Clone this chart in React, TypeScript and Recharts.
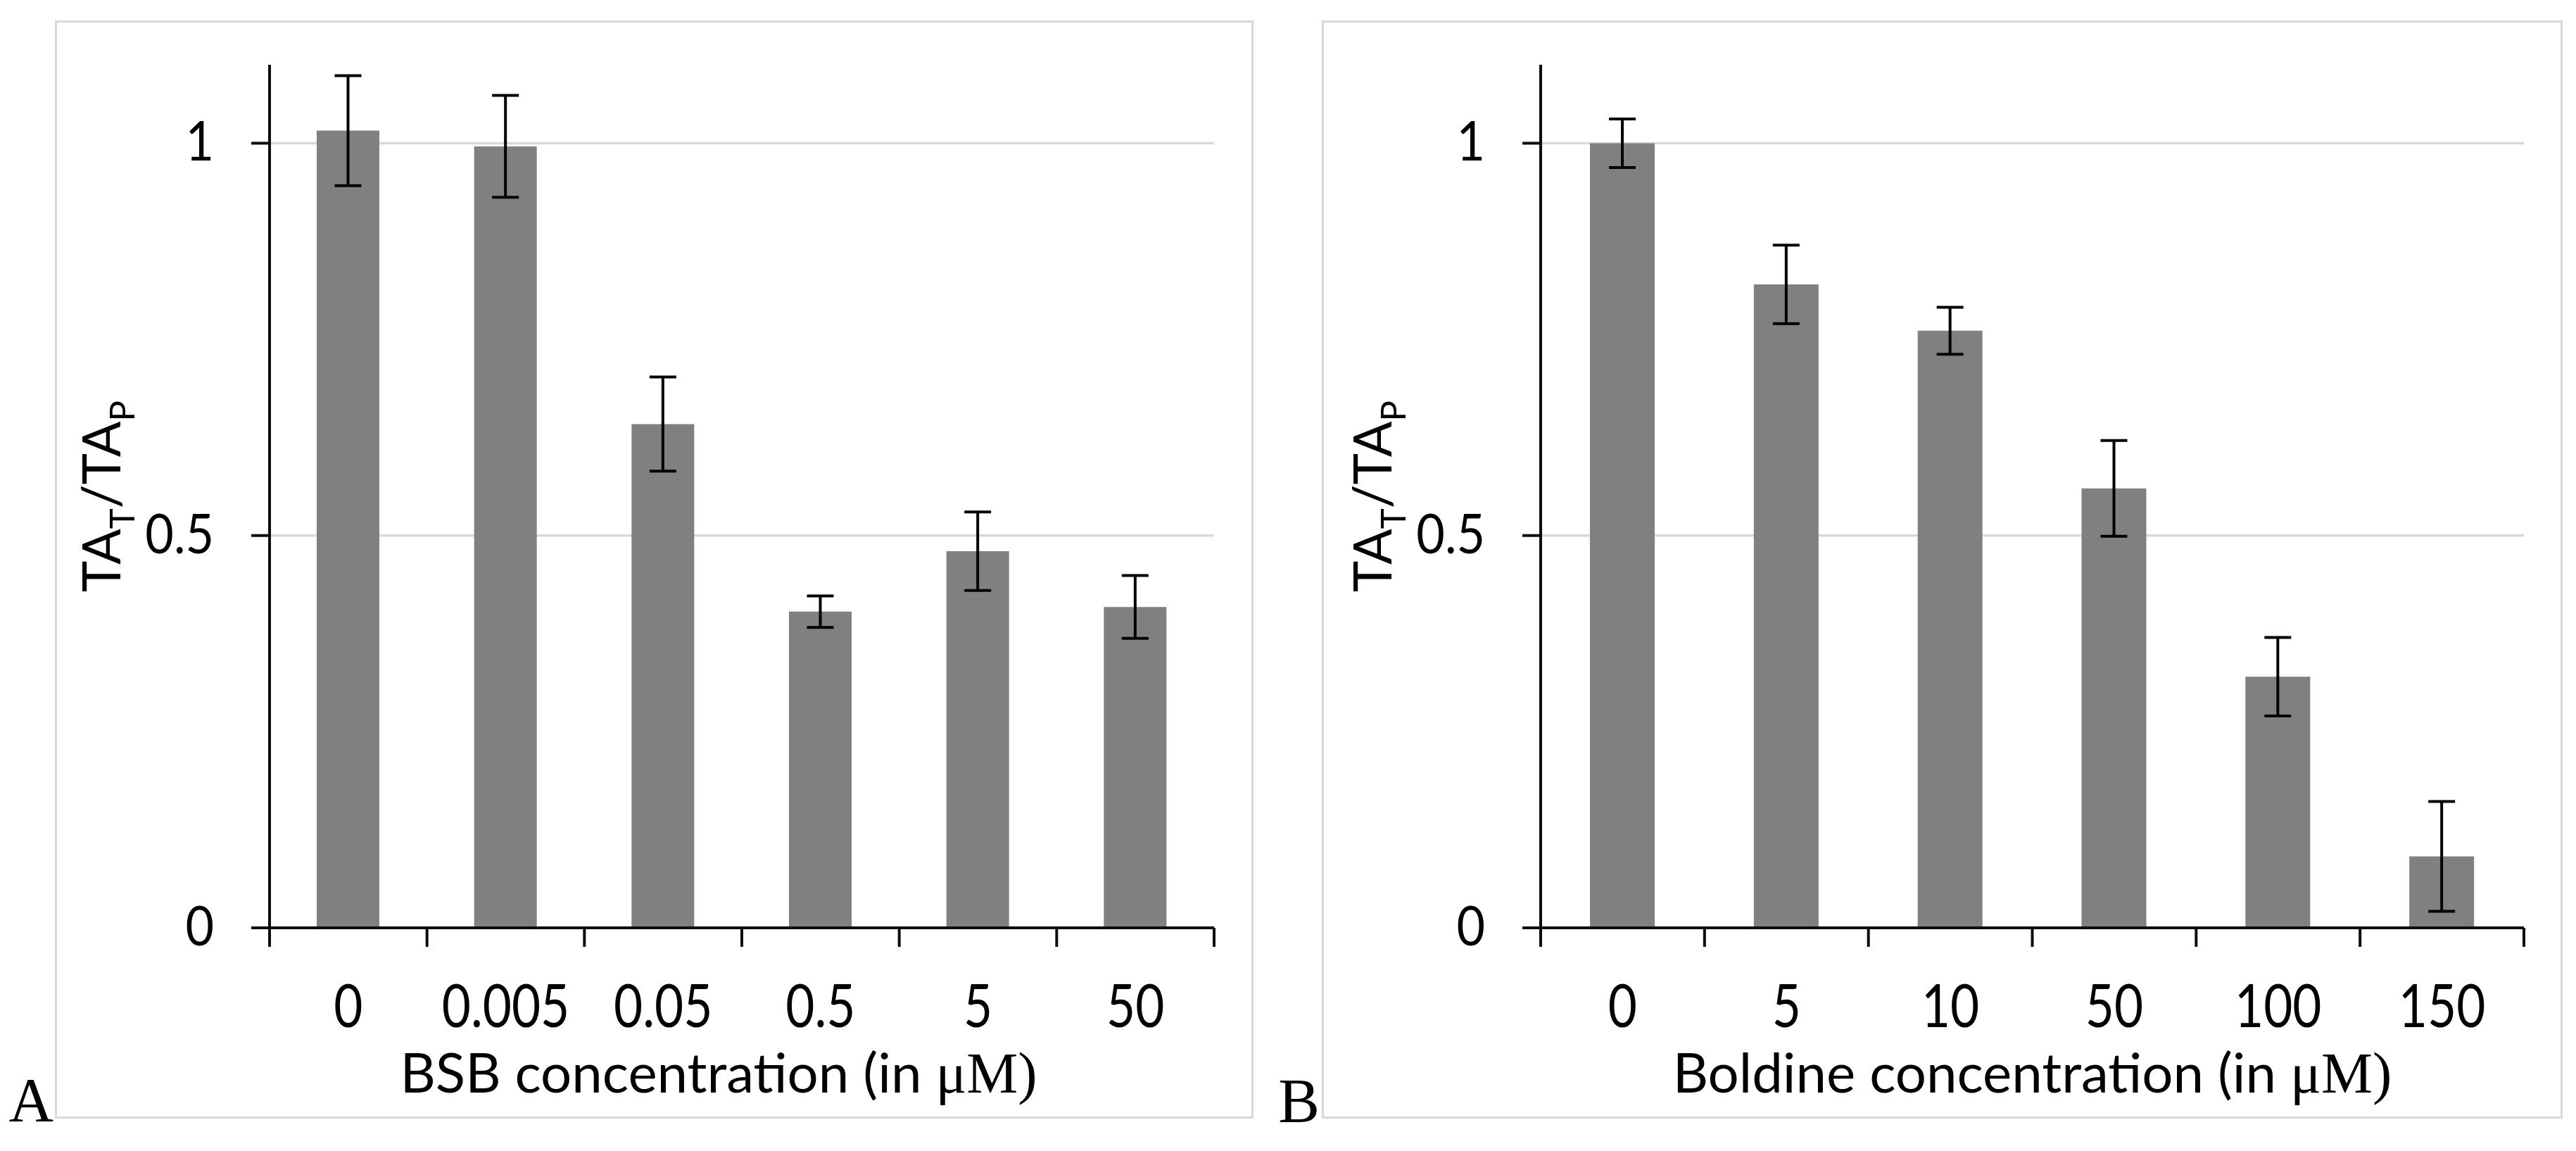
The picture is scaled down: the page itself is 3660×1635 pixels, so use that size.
import React from 'react';
import { BarChart, Bar, XAxis, YAxis, CartesianGrid, ErrorBar, Label } from 'recharts';

// panel A: BSB
const bsbConc = ['0', '0.005', '0.05', '0.5', '5', '50'];
const bsbRatio = [1.016, 0.996, 0.642, 0.403, 0.48, 0.409];
const bsbErr = [0.07, 0.065, 0.06, 0.02, 0.05, 0.04];

// panel B: boldine
const boldineConc = ['0', '5', '10', '50', '100', '150'];
const boldineRatio = [1.0, 0.82, 0.761, 0.56, 0.32, 0.091];
const boldineErr = [0.031, 0.05, 0.03, 0.061, 0.05, 0.07];

const yTicks = [0, 0.5, 1];
const yMax = 1.1;

type Row = { conc: string; ratio: number; err: number };

const toRows = (conc: string[], ratio: number[], err: number[]): Row[] =>
  conc.map((c, i) => ({ conc: c, ratio: ratio[i], err: err[i] }));

const SANS = 'Lato, "Open Sans", sans-serif';
const SERIF = '"Liberation Serif", "Times New Roman", serif';
const AXIS = '#0d0d0d';
const GRID = '#d9d9d9';

// grid rows, but not the one on the top edge of the plot
const GridRow = (p: any) => {
  if (typeof p.y === 'number' && Math.abs(p.y1 - p.y) < 1) return <g />;
  return <line x1={p.x1} y1={p.y1} x2={p.x2} y2={p.y2} stroke={GRID} strokeWidth={3.5} />;
};

const XTick = (props: any) => {
  const { x, y, payload, index, count, half } = props;
  const h = payload && payload.offset ? payload.offset : half;
  return (
    <g>
      <line x1={x - h} y1={y - 27} x2={x - h} y2={y} stroke={AXIS} strokeWidth={4} />
      {index === count - 1 && (
        <line x1={x + h} y1={y - 27} x2={x + h} y2={y} stroke={AXIS} strokeWidth={4} />
      )}
      <text
        transform={`translate(${x},${y + 114}) scale(1,1.2)`}
        textAnchor="middle"
        fontFamily={SANS}
        fontSize={71}
        fill="#000"
      >
        {payload.value}
      </text>
    </g>
  );
};

const YTick = (props: any) => {
  const { x, y, payload } = props;
  return (
    <text
      transform={`translate(${x},${y + 25}) scale(1,1.1)`}
      textAnchor="end"
      fontFamily={SANS}
      fontSize={70}
      fill="#000"
    >
      {payload.value}
    </text>
  );
};

const YTitle = (props: any) => {
  const { viewBox } = props;
  const bx = viewBox.x + viewBox.width - 212;
  const cy = viewBox.y + viewBox.height / 2;
  return (
    <text
      x={bx}
      y={cy}
      transform={`rotate(-90 ${bx} ${cy})`}
      textAnchor="middle"
      fontFamily={SANS}
      fontSize={75}
      fill="#000"
    >
      TA<tspan dy={20} fontSize={49}>T</tspan>
      <tspan dy={-20}>/TA</tspan>
      <tspan dy={20} fontSize={49}>P</tspan>
    </text>
  );
};

const XTitle = (props: any) => {
  const { viewBox, text, dx } = props;
  const cx = viewBox.x + viewBox.width / 2 + dx;
  const by = viewBox.y + 234;
  return (
    <text x={cx} y={by} textAnchor="middle" fontFamily={SANS} fontSize={78} fill="#000">
      {text}
      <tspan fontFamily={SERIF} fontSize={82}>μM)</tspan>
    </text>
  );
};

interface PanelProps {
  rows: Row[];
  left: number;
  width: number;
  yAxisWidth: number;
  rightMargin: number;
  barSize: number;
  title: string;
  titleDx: number;
}

const Panel: React.FC<PanelProps> = ({ rows, left, width, yAxisWidth, rightMargin, barSize, title, titleDx }) => {
  const plotW = width - yAxisWidth - rightMargin;
  return (
    <div style={{ position: 'absolute', left, top: 31 }}>
      <BarChart
        width={width}
        height={1556}
        data={rows}
        margin={{ top: 61, right: rightMargin, bottom: 0, left: 0 }}
      >
        <CartesianGrid vertical={false} horizontal={(p: any) => <GridRow {...p} />} stroke={GRID} strokeWidth={3.5} />
        <XAxis
          dataKey="conc"
          height={269}
          interval={0}
          tickLine={false}
          tickSize={27}
          tickMargin={0}
          axisLine={{ stroke: AXIS, strokeWidth: 4 }}
          tick={<XTick count={rows.length} half={plotW / rows.length / 2} />}
        >
          <Label content={(p: any) => <XTitle {...p} text={title} dx={titleDx} />} />
        </XAxis>
        <YAxis
          width={yAxisWidth}
          domain={[0, yMax]}
          ticks={yTicks}
          tickSize={26}
          tickMargin={53}
          tickLine={{ stroke: AXIS, strokeWidth: 4 }}
          axisLine={{ stroke: AXIS, strokeWidth: 4 }}
          tick={<YTick />}
        >
          <Label content={(p: any) => <YTitle {...p} />} />
        </YAxis>
        <Bar dataKey="ratio" fill="#808080" barSize={barSize} isAnimationActive={false}>
          <ErrorBar dataKey="err" width={19} strokeWidth={4} stroke="#000" direction="y" isAnimationActive={false} />
        </Bar>
      </BarChart>
    </div>
  );
};

const App: React.FC = () => {
  const bsbRows = toRows(bsbConc, bsbRatio, bsbErr);
  const boldineRows = toRows(boldineConc, boldineRatio, boldineErr);
  return (
    <div style={{ position: 'absolute', left: 0, top: 0, width: 3660, height: 1635, background: '#fff', overflow: 'hidden' }}>
      <div style={{ position: 'absolute', left: 78, top: 29, width: 1703, height: 1560, border: `3px solid ${GRID}`, boxSizing: 'border-box' }} />
      <div style={{ position: 'absolute', left: 1878, top: 29, width: 1763, height: 1560, border: `3px solid ${GRID}`, boxSizing: 'border-box' }} />
      <svg width={3660} height={1635} style={{ position: 'absolute', left: 0, top: 0 }}>
        <text x={76} y={1592} textAnchor="end" fontFamily={SERIF} fontSize={88} fill="#000">A</text>
        <text x={1875} y={1593} textAnchor="end" fontFamily={SERIF} fontSize={88} fill="#000">B</text>
      </svg>
      <Panel
        rows={bsbRows}
        left={79}
        width={1701}
        yAxisWidth={304}
        rightMargin={55}
        barSize={89}
        title="BSB concentration (in "
        titleDx={-33}
      />
      <Panel
        rows={boldineRows}
        left={1880}
        width={1759}
        yAxisWidth={309}
        rightMargin={53}
        barSize={92}
        title="Boldine concentration (in "
        titleDx={0}
      />
    </div>
  );
};

export default App;
